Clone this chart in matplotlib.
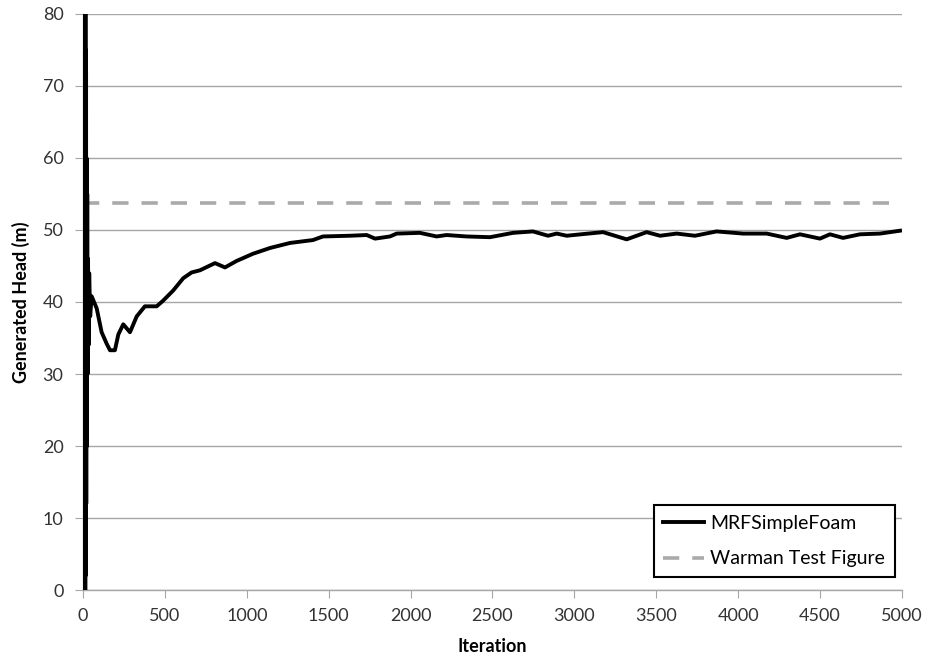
import numpy as np
import matplotlib.pyplot as plt

plt.rcParams['font.family'] = ['Lato', 'DejaVu Sans']

# MRFSimpleFoam head vs iteration
iters = [0, 1, 2, 3, 4, 5, 6, 7, 8, 9, 10, 11, 12, 13, 14, 15, 16, 17, 18, 19,
         20, 22, 24, 26, 28, 31, 34, 38, 44,
         53, 84, 114, 145, 165, 195, 216, 246, 287, 328, 378, 450, 490, 551, 612,
         663, 714, 806, 867, 938, 1038, 1142, 1264, 1404, 1465, 1630, 1732, 1783,
         1874, 1915, 2057, 2159, 2220, 2342, 2485, 2625, 2747, 2839, 2892, 2953,
         3040, 3175, 3319, 3441, 3523, 3624, 3736, 3868, 4030, 4174, 4296, 4377,
         4499, 4560, 4640, 4743, 4866, 4988]
head = [0, 92, 0, 92, 0, 92, 0, 92, 0, 90, 0, 88, 0, 85, 0, 80, 2, 75, 5, 72,
        12, 60, 20, 55, 30, 46, 34, 44, 38,
        40.8, 39.1, 35.8, 34.2, 33.3, 33.3, 35.5, 36.9, 35.8, 38.0, 39.4, 39.4,
        40.2, 41.6, 43.3, 44.1, 44.4, 45.4, 44.8, 45.7, 46.7, 47.5, 48.2, 48.6,
        49.1, 49.2, 49.3, 48.8, 49.1, 49.5, 49.6, 49.1, 49.3, 49.1, 49.0, 49.6,
        49.8, 49.2, 49.5, 49.2, 49.4, 49.7, 48.7, 49.7, 49.2, 49.5, 49.2, 49.8,
        49.5, 49.5, 48.9, 49.4, 48.8, 49.4, 48.9, 49.4, 49.5, 49.9]
warman_head = 53.8

fig = plt.figure(figsize=(9.28, 6.63), dpi=100)
ax = fig.add_axes([0.0894, 0.110, 0.8826, 0.869])

ax.plot(iters, head, color='black', lw=2.8, label='MRFSimpleFoam', zorder=3)
ax.axhline(warman_head, color='#aaaaaa', lw=2.6, dashes=(4.5, 3.6),
           label='Warman Test Figure', zorder=2)

ax.set_xlim(0, 5000)
ax.set_ylim(0, 80)
ax.set_xticks(np.arange(0, 5001, 500))
ax.set_yticks(np.arange(0, 81, 10))
ax.grid(axis='y', color='#a6a6a6', lw=1)
ax.set_axisbelow(True)
for s in ['top', 'right']:
    ax.spines[s].set_visible(False)
for s in ['left', 'bottom']:
    ax.spines[s].set_color('#a6a6a6')
    ax.spines[s].set_linewidth(1)
ax.tick_params(direction='out', length=6, color='#a6a6a6', labelsize=13,
               labelcolor='#333333')
ax.tick_params(axis='y', pad=8)
ax.tick_params(axis='x', pad=7)

ax.set_xlabel('Iteration', fontsize=13, fontweight='bold', labelpad=10)
ax.set_ylabel('Generated Head (m)', fontsize=13, fontweight='bold', labelpad=9)

leg = ax.legend(loc='lower right', bbox_to_anchor=(0.991, 0.0226), fontsize=14,
                frameon=True, fancybox=False, handlelength=2.1,
                borderpad=0.5, borderaxespad=0, labelspacing=0.95,
                handletextpad=0.3)
leg.get_frame().set_edgecolor('black')
leg.get_frame().set_linewidth(1.5)
leg.get_frame().set_alpha(1)

fig.savefig('out.png', dpi=100)
